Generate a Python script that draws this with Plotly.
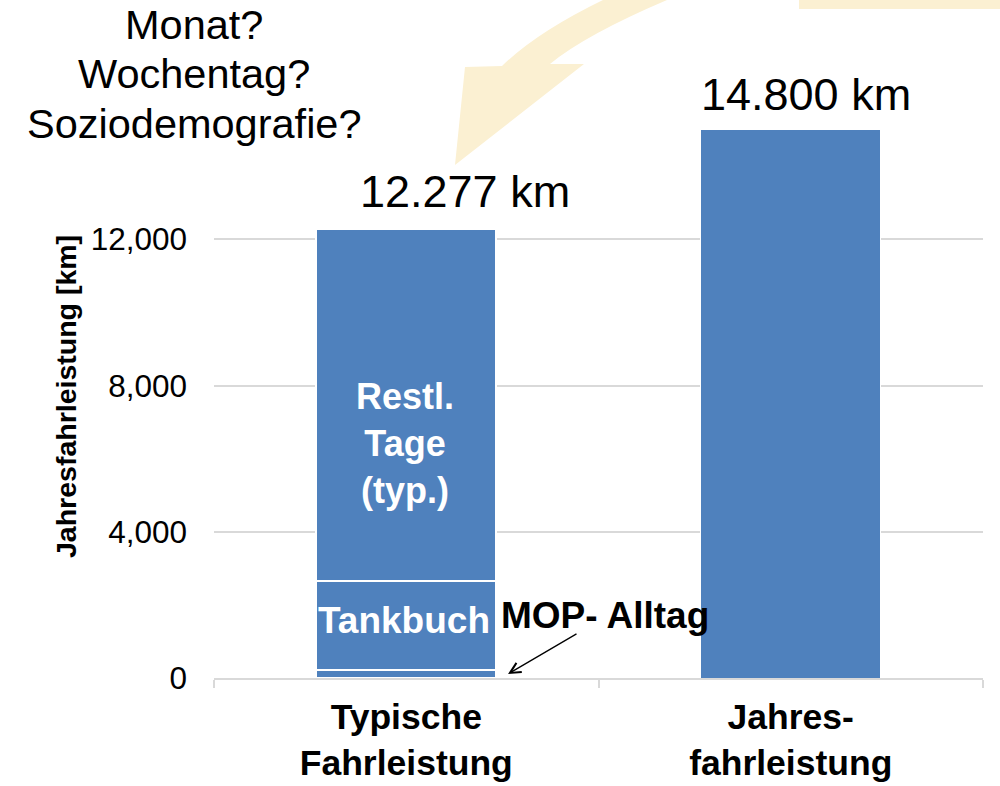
import plotly.graph_objects as go

# ---- data ----
categories = ["Typische<br>Fahrleistung", "Jahres-<br>fahrleistung"]
segment_names = ["MOP- Alltag", "Tankbuch", "Restl. Tage (typ.)"]
typical_segments = [220, 2430, 9627]      # stacked parts of "Typische Fahrleistung" (sum 12,277)
annual_value = [15000]                    # bar height as drawn for "Jahresfahrleistung"
y_tickvals = [0, 4000, 8000, 12000]
label_typical = "12.277 km"
label_annual = "14.800 km"
questions = ["Monat?", "Wochentag?", "Soziodemografie?"]

# ---- layout geometry (pixels) ----
W, H = 1000, 786
L, R, T, B = 214, 983, 93, 678
PW, PH = R - L, B - T
FONT = "Liberation Sans, Arial, sans-serif"
BLUE = "#4F81BD"
YELLOW = "#FBF0D2"


def pp(px, py):
    return (px - L) / PW, (B - py) / PH


fig = go.Figure()
for name, val in zip(segment_names, typical_segments):
    fig.add_trace(go.Bar(x=[categories[0]], y=[val], name=name,
                         marker=dict(color=BLUE, line=dict(color="white", width=2)),
                         showlegend=False, hoverinfo="skip"))
fig.add_trace(go.Bar(x=[categories[1]], y=annual_value, name="Jahresfahrleistung",
                     marker=dict(color=BLUE, line=dict(color="white", width=1)),
                     showlegend=False, hoverinfo="skip"))

annotations = []


def ann(text, px, py, size, bold=False, color="black", xanchor="center", yanchor="middle", angle=0):
    x, y = pp(px, py)
    annotations.append(dict(
        text=f"<b>{text}</b>" if bold else text, x=x, y=y, xref="paper", yref="paper",
        showarrow=False, xanchor=xanchor, yanchor=yanchor, textangle=angle,
        font=dict(family=FONT, size=size, color=color)))


# question texts
for q, cy in zip(questions, [25, 74, 123]):
    ann(q, 194, cy, 41.5)

# total labels
ann(label_typical, 465, 192, 45)
ann(label_annual, 806, 94, 45)

# segment labels
ann("Restl.<br>Tage<br>(typ.)", 405, 443, 36, bold=True, color="white")
ann("Tankbuch", 404, 620, 37, bold=True, color="white")
ann("MOP- Alltag", 605, 615, 37, bold=True)

# y-axis title
ann("Jahresfahrleistung [km]", 66, 397, 28.5, bold=True, angle=-90)

# MOP arrow
ax1, ay1 = pp(508, 674)
annotations.append(dict(x=ax1, y=ay1, ax=70, ay=-41, xref="paper", yref="paper",
                        axref="pixel", ayref="pixel", text="", showarrow=True,
                        arrowhead=5, arrowsize=1.6, arrowwidth=1.3, arrowcolor="black"))

# curved yellow arrow (decoration)
pts = {
    "tl": pp(603, 0), "c1": pp(537, 32), "lb": pp(502, 66), "lw": pp(465, 67),
    "tip": pp(455, 165), "rw": pp(584, 64), "rb": pp(550, 64), "c2": pp(585, 35), "tr": pp(667, 0),
}
f = lambda k: f"{pts[k][0]:.5f},{pts[k][1]:.5f}"
path = (f"M {f('tl')} Q {f('c1')} {f('lb')} L {f('lw')} L {f('tip')} L {f('rw')} "
        f"L {f('rb')} Q {f('c2')} {f('tr')} Z")
r0 = pp(799, 0)
r1 = pp(1000, 9)
shapes = [
    dict(type="path", path=path, xref="paper", yref="paper", fillcolor=YELLOW,
         line=dict(width=0), layer="below"),
    dict(type="rect", x0=r0[0], y0=r0[1], x1=r1[0], y1=r1[1], xref="paper", yref="paper",
         fillcolor=YELLOW, line=dict(width=0), layer="below"),
]

fig.update_layout(
    width=W, height=H, barmode="stack", bargap=0.5325,
    margin=dict(l=L, r=W - R, t=T, b=H - B, pad=0),
    paper_bgcolor="white", plot_bgcolor="white",
    font=dict(family=FONT, color="black"),
    annotations=annotations, shapes=shapes,
    xaxis=dict(showline=True, linecolor="#D9D9D9", linewidth=2, ticks="outside",
               tickson="boundaries", ticklen=8, tickcolor="#D9D9D9", tickwidth=2,
               tickfont=dict(family=FONT, size=35.5, color="black"), showgrid=False,
               ticklabelstandoff=6, automargin=False),
    yaxis=dict(range=[0, 16000], tickvals=y_tickvals, tickformat=",", showgrid=True,
               gridcolor="#D9D9D9", gridwidth=2, zeroline=False, showline=False,
               tickfont=dict(family=FONT, size=31.5, color="black"), ticklabelstandoff=26,
               automargin=False),
)
fig.update_xaxes(tickprefix="<b>", ticksuffix="</b>")

fig.write_html("out.html", config={"displayModeBar": False},
               post_script="document.body.style.margin='0px';")
